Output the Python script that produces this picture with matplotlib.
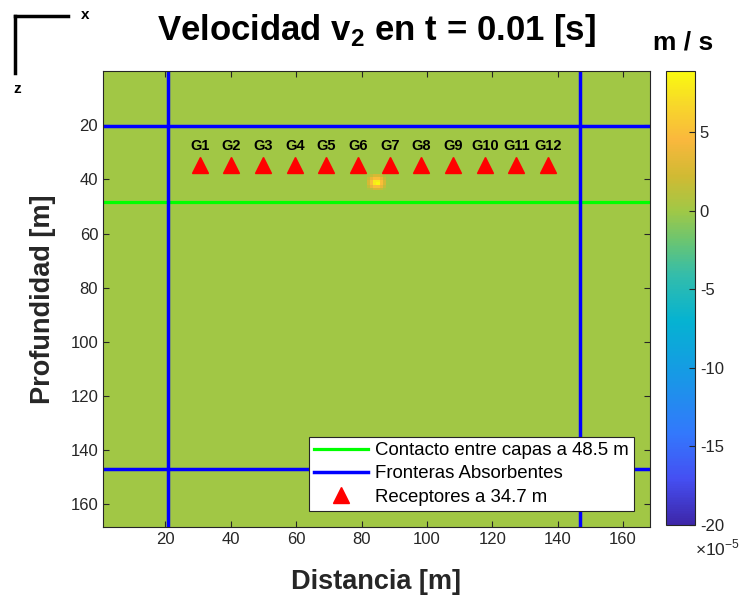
import numpy as np
import matplotlib.pyplot as plt
from matplotlib.colors import LinearSegmentedColormap, Normalize

plt.rcParams['font.family'] = ['Liberation Sans', 'DejaVu Sans']
plt.rcParams['mathtext.fontset'] = 'custom'
plt.rcParams['mathtext.rm'] = 'Liberation Sans'
plt.rcParams['mathtext.bf'] = 'Liberation Sans:bold'

# dominio del modelo [m]
x_lim = [0.9, 168.2]
z_lim = [168.3, 0.0]
n_celdas = 168

# fuente puntual en t = 0.01 s (valores en 1e-5 m/s)
fuente_col = 81
fuente_fila = 38
fuente = np.array([
    [0.5, 1.5, 2.5, 2.5, 1.5, 0.5],
    [1.5, 3.5, 5.0, 5.0, 3.5, 1.5],
    [2.5, 5.0, 8.0, 8.0, 5.0, 2.5],
    [2.5, 5.0, 8.0, 8.9, 5.0, 2.5],
    [1.5, 3.5, 5.0, 5.0, 3.5, 1.5],
    [0.5, 1.5, 2.5, 2.5, 1.5, 0.5],
])
v_min, v_max = -20.0, 8.9

# fronteras absorbentes y contacto
frontera_x = [20.9, 146.7]
frontera_z = [20.3, 146.9]
contacto_z = 48.5

# receptores
receptor_x = [30.5, 40.2, 49.9, 59.6, 69.2, 78.9, 88.6, 98.3, 108.0, 117.7, 127.4, 137.0]
receptor_z = 34.7
receptor_lbl = ['G1', 'G2', 'G3', 'G4', 'G5', 'G6', 'G7', 'G8', 'G9', 'G10', 'G11', 'G12']

x_ticks = [20, 40, 60, 80, 100, 120, 140, 160]
z_ticks = [20, 40, 60, 80, 100, 120, 140, 160]
cb_ticks = [-20, -15, -10, -5, 0, 5]

# colormap tipo parula
parula = LinearSegmentedColormap.from_list('parula_aprox', [
    (0.00, (0.24, 0.15, 0.66)),
    (0.10, (0.27, 0.31, 0.95)),
    (0.20, (0.20, 0.47, 0.99)),
    (0.33, (0.09, 0.60, 0.90)),
    (0.45, (0.02, 0.70, 0.82)),
    (0.55, (0.20, 0.74, 0.67)),
    (0.62, (0.40, 0.77, 0.46)),
    (0.692, (0.627, 0.784, 0.275)),
    (0.77, (0.82, 0.73, 0.20)),
    (0.85, (0.98, 0.72, 0.24)),
    (0.93, (0.97, 0.85, 0.16)),
    (1.00, (0.98, 0.98, 0.06)),
])

campo = np.zeros((n_celdas, n_celdas))
n = fuente.shape[0]
campo[fuente_fila:fuente_fila + n, fuente_col:fuente_col + n] = fuente

gris = (0.15, 0.15, 0.15)

fig = plt.figure(figsize=(7.41, 6.0), dpi=100)
ax = fig.add_axes([0.139, 0.1217, 0.738, 0.7600])
cax = fig.add_axes([0.8988, 0.125, 0.039, 0.757])

im = ax.imshow(campo, cmap=parula, norm=Normalize(v_min, v_max),
               extent=[x_lim[0], x_lim[1], z_lim[0], z_lim[1]],
               interpolation='nearest', aspect='auto')

l1 = ax.axhline(contacto_z, color=(0, 1, 0), lw=2.3)
for xf in frontera_x:
    ax.plot([xf, xf], [z_lim[1], z_lim[0] - 0.6], color=(0, 0, 1), lw=2.5)
for zf in frontera_z:
    l2 = ax.axhline(zf, color=(0, 0, 1), lw=2.5)
l3, = ax.plot(receptor_x, [receptor_z] * len(receptor_x), '^', color='red',
              ms=12, ls='none')
for xr, lb in zip(receptor_x, receptor_lbl):
    ax.text(xr, receptor_z - 4.5, lb, ha='center', va='bottom',
            fontsize=10.5, fontweight='bold', color='black')

ax.set_xlim(x_lim)
ax.set_ylim(z_lim)
ax.set_xticks(x_ticks)
ax.set_yticks(z_ticks)
ax.tick_params(direction='in', top=True, right=True, length=4,
               labelsize=12, colors=gris, width=0.8)
for s in ax.spines.values():
    s.set_color(gris)
    s.set_linewidth(0.8)

ax.set_xlabel('Distancia [m]', fontsize=19.5, fontweight='bold', color=gris, labelpad=16)
ax.set_ylabel('Profundidad [m]', fontsize=19.5, fontweight='bold', color=gris, labelpad=10)
ax.set_title('Velocidad v$_{\\mathbf{2}}$ en t = 0.01 [s]', fontsize=25,
             fontweight='bold', pad=22)

leg = ax.legend([l1, l2, l3],
                ['Contacto entre capas a 48.5 m', 'Fronteras Absorbentes',
                 'Receptores a 34.7 m'],
                loc='lower right', fontsize=13.4, fancybox=False, framealpha=1,
                edgecolor=gris, handlelength=2.9, handletextpad=0.35,
                labelspacing=0.33, borderaxespad=0.85, borderpad=0.3)
leg.get_frame().set_linewidth(0.8)

cb = fig.colorbar(im, cax=cax, ticks=cb_ticks)
cb.ax.tick_params(direction='in', labelsize=12, colors=gris, length=4, width=0.8)
cb.outline.set_edgecolor(gris)
cb.outline.set_linewidth(0.8)
cb.ax.set_yticklabels([str(t) for t in cb_ticks])
fig.text(0.922, 0.93, 'm / s', fontsize=19, fontweight='bold', ha='center', va='center')
fig.text(0.998, 0.087, '$\\times$10$^{-5}$', fontsize=12.5, color=gris, ha='right', va='center')

# indicador de ejes x - z
fig.add_artist(plt.Line2D([0.0203, 0.092], [0.973, 0.973], color='black', lw=2.5))
fig.add_artist(plt.Line2D([0.0203, 0.0203], [0.973, 0.878], color='black', lw=2.5))
fig.text(0.115, 0.975, 'x', fontsize=11, fontweight='bold', ha='center', va='center')
fig.text(0.023, 0.852, 'z', fontsize=11, fontweight='bold', ha='center', va='center')

fig.savefig('out.png', dpi=100)
